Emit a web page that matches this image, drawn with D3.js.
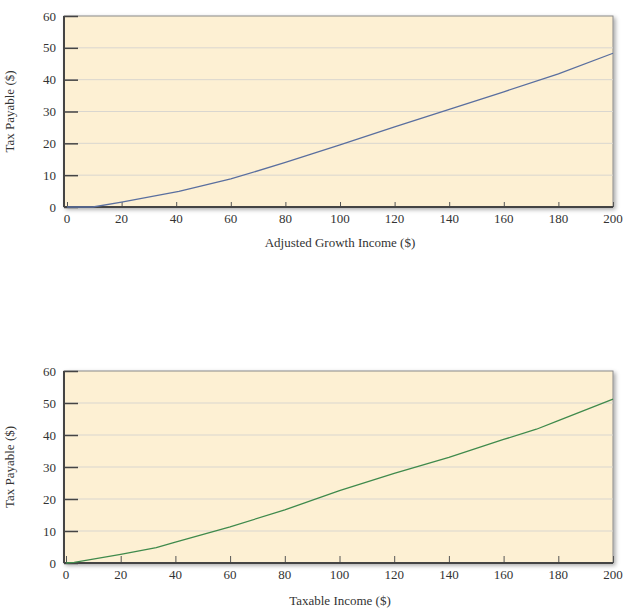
<!DOCTYPE html>
<html><head><meta charset="utf-8">
<script src="https://cdn.jsdelivr.net/npm/d3@7"></script>
<style>body{margin:0;background:#fff}</style>
</head><body>
<svg id="c" width="629" height="610"></svg>
<script>
const xTicks = [0,20,40,60,80,100,120,140,160,180,200];
const yTicks = [0,10,20,30,40,50,60];
const topIncome = [0, 9.5, 20, 41, 60, 80, 90, 100, 120, 140, 160, 180, 200];
const topTax    = [0, 0, 1.5, 4.9, 8.8, 14.0, 16.8, 19.5, 25.2, 30.7, 36.2, 41.8, 48.3];
const botIncome = [0, 3, 20, 33, 40, 60, 80, 100, 120, 140, 160, 172, 180, 200];
const botTax    = [0, 0.2, 2.7, 4.8, 6.5, 11.3, 16.6, 22.6, 28.0, 33.0, 38.6, 41.8, 44.5, 51.2];
const yTitle = "Tax Payable ($)";
const xTitles = ["Adjusted Growth Income ($)", "Taxable Income ($)"];

const svg = d3.select("#c");
const defs = svg.append("defs");
const f = defs.append("filter").attr("id","sh").attr("x","-5%").attr("y","-5%").attr("width","115%").attr("height","115%");
f.append("feDropShadow").attr("dx",2).attr("dy",2).attr("stdDeviation",2).attr("flood-color","#000").attr("flood-opacity",0.35);

function panel(top, bottom, xs, ys, color, xTitle, x0, titleOff, tickLen){
  const L=64, R=613;
  const x = d3.scaleLinear().domain([0,200]).range([x0,R]);
  const y = d3.scaleLinear().domain([0,60]).range([bottom,top]);
  const g = svg.append("g");
  g.append("rect").attr("x",L).attr("y",top).attr("width",R-L).attr("height",bottom-top)
    .attr("fill","#fdf0d3").attr("stroke","#8a8a8a").attr("stroke-width",1).attr("filter","url(#sh)");
  g.selectAll(".gl").data(yTicks.filter(d=>d>0&&d<60)).join("line")
    .attr("x1",L).attr("x2",R).attr("y1",d=>y(d)).attr("y2",d=>y(d))
    .attr("stroke","#d9d6cf").attr("stroke-width",1);
  const ya = g.append("g").attr("transform",`translate(${L},0)`)
    .call(d3.axisRight(y).tickValues(yTicks).tickSize(14).tickFormat(""));
  ya.select(".domain").remove();
  ya.selectAll("line").attr("stroke","#444").attr("stroke-width",1.5);
  g.selectAll(".yl").data(yTicks).join("text")
    .attr("x",L-8).attr("y",d=>y(d)).attr("dy","0.35em").attr("text-anchor","end")
    .attr("font-family","Liberation Serif, serif").attr("font-size",13).attr("fill","#333").text(d=>d);
  const xa = g.append("g").attr("transform",`translate(0,${bottom})`)
    .call(d3.axisTop(x).tickValues(xTicks).tickSize(tickLen).tickFormat(""));
  xa.select(".domain").remove();
  xa.selectAll("line").attr("stroke","#555").attr("stroke-width",1);
  g.selectAll(".xl").data(xTicks).join("text")
    .attr("x",d=>x(d)).attr("y",bottom+16).attr("text-anchor","middle")
    .attr("font-family","Liberation Serif, serif").attr("font-size",13).attr("fill","#333").text(d=>d);
  g.append("line").attr("x1",L).attr("x2",L).attr("y1",top).attr("y2",bottom).attr("stroke","#444").attr("stroke-width",2);
  g.append("line").attr("x1",L).attr("x2",R).attr("y1",bottom).attr("y2",bottom).attr("stroke","#444").attr("stroke-width",2);
  const pts = xs.map((v,i)=>[v,ys[i]]);
  g.append("path").datum(pts).attr("fill","none").attr("stroke",color).attr("stroke-width",1.3)
    .attr("d",d3.line().x(d=>x(d[0])).y(d=>y(d[1])));
  g.append("text").attr("transform",`translate(14,${(top+bottom)/2}) rotate(-90)`)
    .attr("text-anchor","middle").attr("font-family","Liberation Serif, serif").attr("font-size",13).attr("fill","#333").text(yTitle);
  g.append("text").attr("x",340).attr("y",bottom+titleOff).attr("text-anchor","middle")
    .attr("font-family","Liberation Serif, serif").attr("font-size",13).attr("fill","#333").text(xTitle);
}
panel(16, 207, topIncome, topTax, "#5a6f9f", xTitles[0], 67, 40, 5);
panel(371, 563, botIncome, botTax, "#3f8a4c", xTitles[1], 66, 42, 7);
</script>
</body></html>
